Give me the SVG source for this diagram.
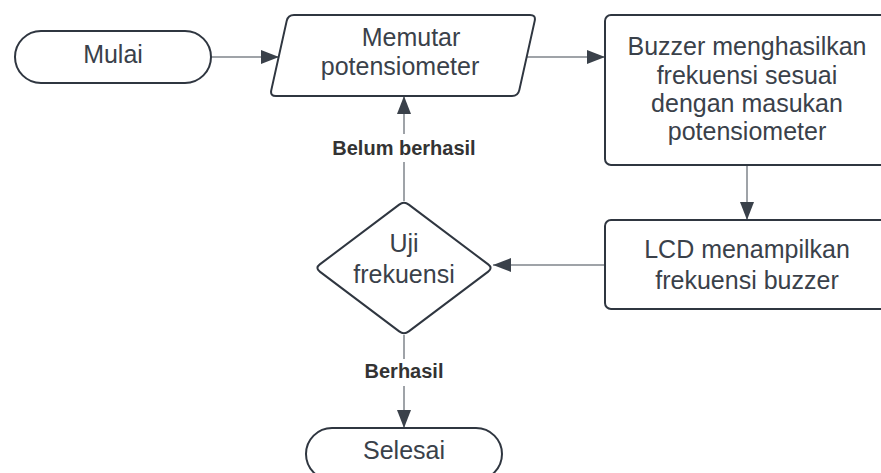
<svg xmlns="http://www.w3.org/2000/svg" width="881" height="473" viewBox="0 0 881 473">
  <style>
    .shape { fill: #ffffff; stroke: #2f3640; stroke-width: 2; }
    .txt { font-family: "Liberation Sans", Arial, sans-serif; font-size: 25px; fill: #3a414a; text-anchor: middle; }
    .lbl { font-family: "Liberation Sans", Arial, sans-serif; font-size: 20px; font-weight: bold; fill: #333333; text-anchor: middle; }
    .conn { fill: none; stroke: #7f848b; stroke-width: 1.5; }
  </style>
  <defs>
    <marker id="arrow" markerUnits="userSpaceOnUse" markerWidth="18" markerHeight="14" viewBox="0 0 18 14" refX="18" refY="7" orient="auto">
      <path d="M0,0 L18,7 L0,14 Z" fill="#3a414a"/>
    </marker>
  </defs>
  <rect width="881" height="473" fill="#ffffff"/>

  <g id="connectors">
    <line class="conn" x1="211" y1="57" x2="279" y2="57" marker-end="url(#arrow)"/>
    <line class="conn" x1="527" y1="57" x2="605" y2="57" marker-end="url(#arrow)"/>
    <line class="conn" x1="747" y1="165" x2="747" y2="220" marker-end="url(#arrow)"/>
    <line class="conn" x1="605" y1="265" x2="493" y2="265" marker-end="url(#arrow)"/>
    <line class="conn" x1="404" y1="201" x2="404" y2="96" marker-end="url(#arrow)"/>
    <line class="conn" x1="404" y1="335" x2="404" y2="428" marker-end="url(#arrow)"/>
    <g id="label-belum">
      <rect x="326" y="134" width="156" height="28" fill="#ffffff"/>
      <text class="lbl" x="404" y="155">Belum berhasil</text>
    </g>
    <g id="label-berhasil">
      <rect x="360" y="359" width="88" height="27" fill="#ffffff"/>
      <text class="lbl" x="404" y="378">Berhasil</text>
    </g>
  </g>

  <g id="mulai">
    <rect class="shape" x="15" y="31" width="196" height="52" rx="26" ry="26"/>
    <text class="txt" x="113" y="63">Mulai</text>
  </g>

  <g id="memutar">
    <path class="shape" d="M 294,15 L 530,15 Q 536,15 534.7,20.9 L 519.3,90.1 Q 518,96 512,96 L 276,96 Q 270,96 271.3,90.1 L 286.7,20.9 Q 288,15 294,15 Z"/>
    <text class="txt" x="411" y="46">Memutar</text>
    <text class="txt" x="400" y="75">potensiometer</text>
  </g>

  <g id="buzzer">
    <rect class="shape" x="605" y="15" width="284" height="150" rx="6" ry="6"/>
    <text class="txt" x="747" y="55">Buzzer menghasilkan</text>
    <text class="txt" x="747" y="83.5">frekuensi sesuai</text>
    <text class="txt" x="747" y="111.5">dengan masukan</text>
    <text class="txt" x="747" y="139.5">potensiometer</text>
  </g>

  <g id="lcd">
    <rect class="shape" x="605" y="220" width="284" height="89" rx="6" ry="6"/>
    <text class="txt" x="747" y="258">LCD menampilkan</text>
    <text class="txt" x="747" y="289">frekuensi buzzer</text>
  </g>

  <g id="uji">
    <path class="shape" d="M 408.8,204.6 L 488.2,264.4 Q 493,268 488.2,271.6 L 408.8,331.4 Q 404,335 399.2,331.4 L 319.8,271.6 Q 315,268 319.8,264.4 L 399.2,204.6 Q 404,201 408.8,204.6 Z"/>
    <text class="txt" x="404" y="252">Uji</text>
    <text class="txt" x="404" y="283">frekuensi</text>
  </g>

  <g id="selesai">
    <rect class="shape" x="306" y="428" width="196" height="52" rx="26" ry="26"/>
    <text class="txt" x="404" y="459">Selesai</text>
  </g>
</svg>
